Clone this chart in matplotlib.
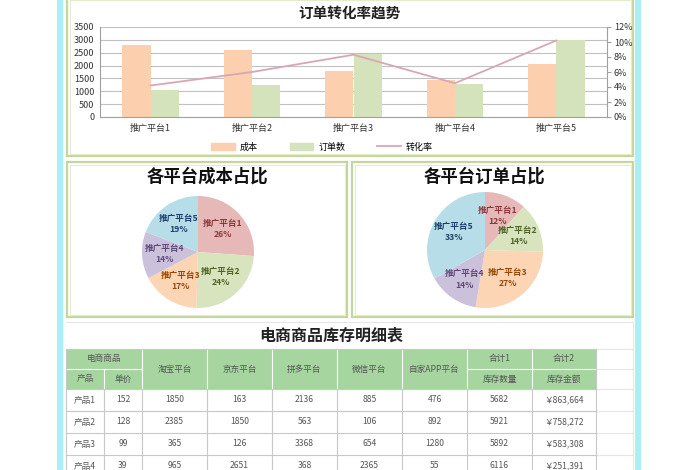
import matplotlib
matplotlib.use('Agg')
import matplotlib.pyplot as plt
from matplotlib.patches import Rectangle, Patch
from matplotlib.lines import Line2D
from matplotlib.ticker import PercentFormatter

plt.rcParams['font.family'] = ['Noto Sans CJK SC', 'DejaVu Sans']

# 数据
platforms = ['推广平台1', '推广平台2', '推广平台3', '推广平台4', '推广平台5']
cost = [2800, 2600, 1800, 1450, 2050]
orders = [1050, 1250, 2450, 1280, 3000]
conv_rate = [0.042, 0.060, 0.083, 0.045, 0.102]

slice_colors = ['#E6B9B8', '#D7E4BD', '#FCD5B5', '#CCC1DA', '#B7DEE8']
label_colors = ['#8B3A3A', '#4F6228', '#974806', '#5F497A', '#1F3F6B']

# 库存明细表
table_title = '电商商品库存明细表'
platform_cols = ['淘宝平台', '京东平台', '拼多平台', '微信平台', '自家APP平台']
products = ['产品1', '产品2', '产品3', '产品4']
unit_price = [152, 128, 99, 39]
taobao = [1850, 2385, 365, 965]
jd = [163, 1850, 126, 2651]
pdd = [2136, 563, 3368, 368]
wechat = [885, 106, 654, 2365]
app = [476, 892, 1280, 55]
stock_qty = [5682, 5921, 5892, 6116]
stock_amt = ['￥863,664', '￥758,272', '￥583,308', '￥251,391']

W, H = 700, 470
fig = plt.figure(figsize=(7, 4.7), dpi=100)
fig.patch.set_facecolor('white')

# 背景层（像素坐标）
bg = fig.add_axes([0, 0, 1, 1], zorder=0)
bg.set_xlim(0, W)
bg.set_ylim(H, 0)
bg.axis('off')

# 两侧青色条
for x0 in (57, 635):
    bg.add_patch(Rectangle((x0, 0), 6, H, color='#A6F0F6', lw=0))

# 面板边框
panel_ec = '#C4D79B'
for (x0, y0, x1, y1) in [(67, -3, 633, 156), (67, 162, 347, 317), (352, 162, 633, 317)]:
    bg.add_patch(Rectangle((x0, y0), x1 - x0, y1 - y0, fill=False, ec=panel_ec, lw=1.6))
    bg.add_patch(Rectangle((x0 + 2.5, y0 + 2.5), x1 - x0 - 5, y1 - y0 - 5, fill=False, ec='#E3EDCB', lw=0.8))

# 表格
col_x = [66, 104, 142, 207, 272, 337, 402, 467, 532, 596]
row_y = [349, 369, 389, 411, 433, 455, 477]
head_green = '#A6D5A0'
grid_c = '#C8C8C8'
txt_c = '#555555'

bg.plot([66, 633], [322, 322], color='#E6E6E6', lw=0.8)
bg.plot([633, 633], [322, H], color='#E6E6E6', lw=0.8)
for y in row_y:
    bg.plot([596, 633], [y, y], color='#E6E6E6', lw=0.8)
bg.text((col_x[0] + col_x[-1]) / 2, 336, table_title, ha='center', va='center',
        fontsize=11.5, fontweight='bold', color='#222222')

bg.add_patch(Rectangle((col_x[0], row_y[0]), col_x[-1] - col_x[0], row_y[2] - row_y[0],
                       color=head_green, lw=0))
fs = 6.2
# 表头
bg.text((col_x[0] + col_x[2]) / 2, (row_y[0] + row_y[1]) / 2, '电商商品', ha='center', va='center', fontsize=fs, color=txt_c)
bg.text((col_x[0] + col_x[1]) / 2, (row_y[1] + row_y[2]) / 2, '产品', ha='center', va='center', fontsize=fs, color=txt_c)
bg.text((col_x[1] + col_x[2]) / 2, (row_y[1] + row_y[2]) / 2, '单价', ha='center', va='center', fontsize=fs, color=txt_c)
for i, name in enumerate(platform_cols):
    bg.text((col_x[2 + i] + col_x[3 + i]) / 2, (row_y[0] + row_y[2]) / 2, name,
            ha='center', va='center', fontsize=fs, color=txt_c)
for i, (a, b) in enumerate([('合计1', '库存数量'), ('合计2', '库存金额')]):
    cx = (col_x[7 + i] + col_x[8 + i]) / 2
    bg.text(cx, (row_y[0] + row_y[1]) / 2, a, ha='center', va='center', fontsize=fs, color=txt_c)
    bg.text(cx, (row_y[1] + row_y[2]) / 2, b, ha='center', va='center', fontsize=fs, color=txt_c)

# 表头网格
bg.plot([col_x[0], col_x[2]], [row_y[1], row_y[1]], color='white', lw=0.8)
bg.plot([col_x[7], col_x[9]], [row_y[1], row_y[1]], color='white', lw=0.8)
bg.plot([col_x[1], col_x[1]], [row_y[1], row_y[2]], color='white', lw=0.8)
for x in col_x[2:-1]:
    bg.plot([x, x], [row_y[0], row_y[2]], color='white', lw=0.8)

# 数据行
rows = list(zip(products, unit_price, taobao, jd, pdd, wechat, app, stock_qty, stock_amt))
for r, vals in enumerate(rows):
    cy = (row_y[2 + r] + row_y[3 + r]) / 2
    for c, v in enumerate(vals):
        bg.text((col_x[c] + col_x[c + 1]) / 2, cy, str(v), ha='center', va='center',
                fontsize=fs, color=txt_c)
for y in row_y[2:]:
    bg.plot([col_x[0], col_x[-1]], [y, y], color=grid_c, lw=0.8)
for x in col_x:
    bg.plot([x, x], [row_y[2], H], color=grid_c, lw=0.8)
bg.plot([col_x[0], col_x[0]], [row_y[0], row_y[2]], color=grid_c, lw=0.8)
bg.plot([col_x[-1], col_x[-1]], [row_y[0], row_y[2]], color=grid_c, lw=0.8)
bg.plot([col_x[0], col_x[-1]], [row_y[0], row_y[0]], color=grid_c, lw=0.8)

# 组合图
ax = fig.add_axes([100 / W, 1 - 117 / H, 507 / W, 90 / H], zorder=2)
ax.set_facecolor('none')
x = list(range(len(platforms)))
bw = 0.28
ax.bar([i - bw / 2 for i in x], cost, width=bw, color='#FCCFAE', zorder=2)
ax.bar([i + bw / 2 for i in x], orders, width=bw, color='#D4E3BC', zorder=2)
ax.set_xlim(-0.5, len(platforms) - 0.5)
ax.set_ylim(0, 3500)
ax.set_yticks(range(0, 3501, 500))
ax.grid(axis='y', color='#C0C0C0', lw=0.8, zorder=0)
ax.set_xticks(x)
ax.set_xticklabels(platforms)
ax.tick_params(axis='x', length=0, labelsize=6.5, colors='#333333', pad=5)
ax.tick_params(axis='y', length=0, labelsize=6.5, colors='#333333', pad=4)
for s in ('top', 'right'):
    ax.spines[s].set_visible(False)
for s in ('left', 'bottom'):
    ax.spines[s].set_color('#A0A0A0')
    ax.spines[s].set_linewidth(0.8)

ax2 = ax.twinx()
ax2.plot(x, conv_rate, color='#D9A7B4', lw=1.3, zorder=3)
ax2.set_ylim(0, 0.12)
ax2.set_yticks([0, 0.02, 0.04, 0.06, 0.08, 0.10, 0.12])
ax2.yaxis.set_major_formatter(PercentFormatter(1.0, decimals=0))
ax2.tick_params(axis='y', length=3, labelsize=6.5, colors='#333333', pad=2)
ax2.tick_params(axis='y', color='#A0A0A0')
for s in ('top', 'left', 'bottom'):
    ax2.spines[s].set_visible(False)
ax2.spines['right'].set_color('#A0A0A0')
ax2.spines['right'].set_linewidth(0.8)

fig.text(350 / W, 1 - 13 / H, '订单转化率趋势', ha='center', va='center',
         fontsize=10.5, fontweight='bold', color='#222222')
handles = [Patch(color='#FCCFAE'), Patch(color='#D4E3BC'), Line2D([], [], color='#D9A7B4', lw=1.3)]
fig.legend(handles, ['成本', '订单数', '转化率'], loc='center', ncol=3, frameon=False,
           bbox_to_anchor=(322 / W, 1 - 147 / H), fontsize=6.5, handlelength=2.6,
           handleheight=0.8, columnspacing=3.5, handletextpad=0.6)


def draw_pie(cx, cy, r, values, title, tx, ty, pctd):
    pax = fig.add_axes([(cx - r) / W, 1 - (cy + r) / H, 2 * r / W, 2 * r / H], zorder=2)
    total = sum(values)
    wedges, _, autotexts = pax.pie(values, colors=slice_colors, startangle=90, counterclock=False,
                                   autopct=lambda p: '', pctdistance=pctd,
                                   wedgeprops=dict(linewidth=0))
    pax.set_xlim(-1, 1)
    pax.set_ylim(-1, 1)
    for i, t in enumerate(autotexts):
        t.set_text('%s\n%d%%' % (platforms[i], round(values[i] / total * 100)))
        t.set_fontsize(6.2)
        t.set_fontweight('bold')
        t.set_color(label_colors[i])
        t.set_linespacing(1.3)
    fig.text(tx / W, 1 - ty / H, title, ha='center', va='center', fontsize=12.5,
             fontweight='bold', color='#111111')


draw_pie(198, 252, 56, cost, '各平台成本占比', 207, 177, 0.6)
draw_pie(485, 250, 58, orders, '各平台订单占比', 484, 177, 0.62)

fig.savefig('out.png', dpi=100, facecolor='white')
